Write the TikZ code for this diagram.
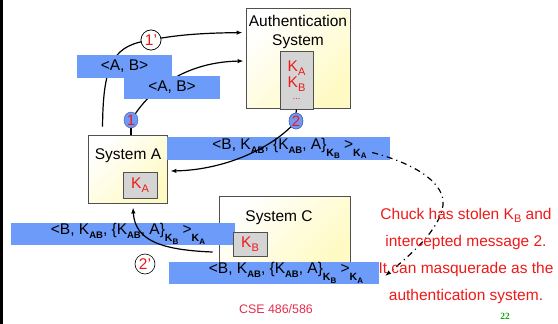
\documentclass[tikz,border=0pt]{standalone}
\usepackage{fontspec}
\setmainfont{Liberation Sans}
\newfontfamily\pagenumfont{Liberation Serif}
\usepackage{tikz}
\usepackage{xcolor}
\usetikzlibrary{arrows.meta,calc,shapes.geometric}
\definecolor{bandBlue}{RGB}{108,155,250}
\definecolor{circBlue}{RGB}{112,152,245}
\definecolor{circEdge}{RGB}{55,85,170}
\definecolor{boxYellow}{RGB}{255,250,195}
\definecolor{boxEdge}{RGB}{80,80,80}
\definecolor{keyGray}{RGB}{212,212,212}
\definecolor{keyRed}{RGB}{240,25,25}
\definecolor{cseRed}{RGB}{230,45,75}
\definecolor{pageGreen}{RGB}{20,165,20}
% subscripts of the message
\newcommand{\subAB}[1]{\raisebox{-0.45ex}{\fontsize{9.5}{9.5}\selectfont\bfseries #1}}
\newcommand{\subKey}[1]{\raisebox{-0.8ex}{\fontsize{10.5}{10.5}\selectfont\bfseries K\raisebox{-0.5ex}{\fontsize{8}{8}\selectfont #1}}}
\newcommand{\msgTwo}{<B, K\subAB{AB}, \{K\subAB{AB}, A\}\subKey{B} >\subKey{A}}
\newcommand{\redKey}[1]{K\raisebox{-0.45ex}{\fontsize{11}{11}\selectfont #1}}
\begin{document}
\begin{tikzpicture}[x=1pt,y=-1pt,>={Latex[length=6pt,width=4.5pt]}]
\tikzset{
  sysbox/.style={draw=boxEdge,line width=0.9pt,left color=white,right color=boxYellow,shading angle=45,inner sep=0},
  keybox/.style={draw=boxEdge,line width=0.9pt,fill=keyGray,text=keyRed,inner sep=0,align=center},
  band/.style={fill=bandBlue,inner sep=0},
  numcirc/.style={ellipse,draw=circEdge,fill=circBlue,text=keyRed,inner sep=0,minimum width=14pt,minimum height=16pt,font=\fontsize{15}{15}\selectfont},
  primecirc/.style={circle,draw,line width=0.6pt,fill=white,text=keyRed,inner sep=0,minimum size=20pt},
  flow/.style={line width=1.2pt}
}

%% CONFIG
\def\fontM{\fontsize{15.5}{18}\selectfont}

\useasboundingbox (0,0) rectangle (558,324);

% Slide edge
\coordinate (edgeTop) at (1.5,0);
\coordinate (edgeBot) at (1.5,324);
\draw [line width=3pt] (edgeTop) -- (edgeBot);

% Draw the authentication system
\node[sysbox,minimum width=104pt,minimum height=100pt] (auth) at (298,58) {};
\node[align=center,font=\fontsize{15.5}{19}\selectfont] (authName) at (298,32) {Authentication\\System};
\node[keybox,minimum width=33pt,minimum height=58pt,font=\fontsize{15.5}{16}\selectfont] (authKeys) at (296.5,80) {\redKey{A}\\\redKey{B}\\[-4pt]{\small...}};

% Draw system A and system C
\node[sysbox,minimum width=79pt,minimum height=68pt] (sysA) at (127.5,169) {};
\node[font=\fontM] (sysAName) at (128,156) {System A};
\node[keybox,minimum width=34pt,minimum height=26pt,font=\fontM] (sysAKey) at (140,185) {\redKey{A}};
\node[sysbox,minimum width=131pt,minimum height=74pt] (sysC) at (284.5,233) {};
\node[font=\fontM] (sysCName) at (279,218) {System C};

% Message 1 and 1'
\coordinate (reqStart) at ($(sysA.north west)+(15,-8)$);
\node[primecirc,font=\fontM] (c1p) at (151,40) {1'};
\draw [flow,->] (reqStart) .. controls (103,60) and (115,45) .. (c1p.center) .. controls (180,34) and (210,33) .. ($(auth.north west)+(-3,25)$);
\node[numcirc] (c1) at (131,120) {1};
\draw [flow,->] (c1) .. controls (155,85) and (190,62) .. ($(auth.west)+(-2,3)$);
\draw [flow] (c1.south) -- (c1.south |- sysA.north);
\node[primecirc,font=\fontM] at (c1p) {1'};
\node[numcirc] (c2) at (296,121) {2};
\draw [flow] (authKeys.south) -- (c2.north);
\node[numcirc] at (c2) {2};

% Draw the <A, B> bands
\node[band,minimum width=95pt,minimum height=23pt,font=\fontM] (bandAB1) at (124.5,66.5) {<A, B>};
\node[band,minimum width=96pt,minimum height=23pt,font=\fontM] (bandAB2) at (172,87.5) {<A, B>};

% Draw the message 2 bands
\node[band,minimum width=224pt,minimum height=22pt,font=\fontM] (msgC) at (123,234) {\hspace*{10pt}\msgTwo};
\node[keybox,minimum width=34pt,minimum height=24pt,font=\fontM] (sysCKey) at (250,244) {\redKey{B}};
\node[band,minimum width=210pt,minimum height=22pt,font=\fontM] (msgChuck) at (274,273) {\hspace*{24pt}\msgTwo};
\node[band,minimum width=223pt,minimum height=23pt,font=\fontM] (msgA) at (278.5,148.5) {\hspace*{22pt}\msgTwo};

% Message 2 and 2'
\draw [flow,->] (c2.south west) .. controls (265,152) and (220,170) .. ($(sysA.east)+(3,2)$);
\coordinate (fakeStart) at ($(sysC.west)+(-6,19)$);
\draw [flow,->] (fakeStart) .. controls (160,250) and (135,240) .. ($(sysA.south)+(5.5,4)$);
\node[primecirc,font=\fontM] (c2p) at (145,264) {2'};

% Interception by Chuck
\coordinate (tapStart) at ($(msgA.east)+(-18,4)$);
\coordinate (tapBend) at (443,205);
\draw [flow,->,dash pattern=on 6pt off 4pt on 1.2pt off 4pt] (tapStart) .. controls (420,165) and (445,185) .. (tapBend) .. controls (440,230) and (410,255) .. ($(msgChuck.east)+(6,3)$);
\node[text=keyRed,align=center,font=\fontsize{15.5}{27.3}\selectfont] (chuck) at (466,256) {Chuck has stolen \redKey{B} and\\intercepted message 2.\\It can masquerade as the\\authentication system.};

% Footer
\node[text=cseRed,font=\fontsize{12.4}{14}\selectfont] (footer) at (276,309) {CSE 486/586};
\node[text=pageGreen,font=\pagenumfont\bfseries\fontsize{9.5}{10}\selectfont] (pagenum) at (505,316) {22};
\end{tikzpicture}
\end{document}
